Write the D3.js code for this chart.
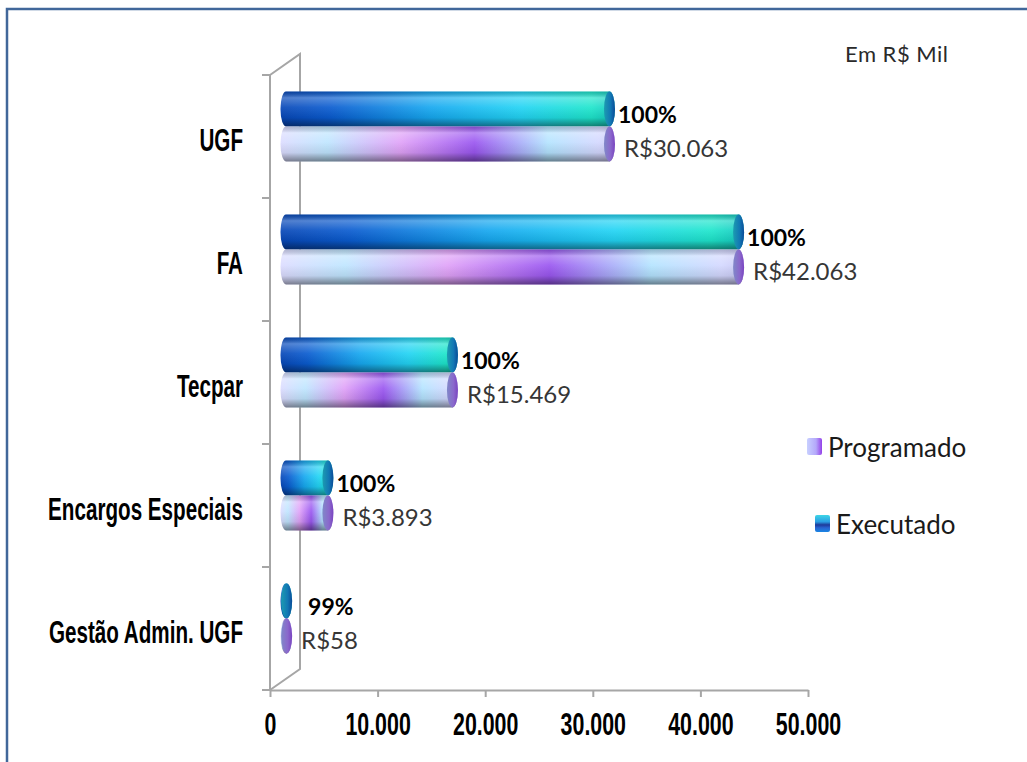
<!DOCTYPE html>
<html>
<head>
<meta charset="utf-8">
<script src="https://cdn.jsdelivr.net/npm/d3@7"></script>
<style>
  body { margin: 0; background: #fff; }
  text { font-family: Lato, "Open Sans", sans-serif; }
  .axis-cond text { font-family: "Liberation Sans", Arial, sans-serif; font-weight: bold; fill: #000; }
</style>
</head>
<body>
<svg id="chart" width="1027" height="762"></svg>
<script>
// data (R$ mil)
var categories = ["UGF", "FA", "Tecpar", "Encargos Especiais", "Gestão Admin. UGF"];
var programado = [30063, 42063, 15469, 3893, 58];
var executado  = [30063, 42063, 15469, 3893, 57];
var pctLabels  = ["100%", "100%", "100%", "100%", "99%"];
var xTicks     = [0, 10000, 20000, 30000, 40000, 50000];
var seriesNames = ["Programado", "Executado"];
var unitLabel = "Em R$ Mil";

var svg = d3.select("#chart");

var xLeft = 270, xRight = 808, yTop = 75, yBottom = 690
  , depth = [30, -21]      // back wall offset
  , dx = 16, dy = -10      // bars sit half way into the depth
  , barH = 35, capRx = 5.5
  , catScale = 0.645, tickScale = 0.69;

var x = d3.scaleLinear().domain([0, 50000]).range([xLeft, xRight]);
var y = d3.scaleBand().domain(categories).range([yTop, yBottom]);

var br = d3.formatLocale({decimal: ",", thousands: ".", grouping: [3], currency: ["R$", ""]});
var fmtTick = br.format(",.0f"), fmtMoney = br.format("$,.0f");

// gradients
var defs = svg.append("defs");
function linGrad(id, stops, vertical) {
  var g = defs.append("linearGradient").attr("id", id)
      .attr("x1", 0).attr("y1", 0).attr("x2", vertical ? 0 : 1).attr("y2", vertical ? 1 : 0);
  stops.forEach(function(s) {
    g.append("stop").attr("offset", s[0]).attr("stop-color", s[1]).attr("stop-opacity", s[2] == null ? 1 : s[2]);
  });
}
linGrad("gExec", [[0, "#0848b8"], [0.15, "#0a5cd0"], [0.45, "#16a8f0"], [0.72, "#22d4f4"], [0.93, "#1ee6cc"], [1, "#16c8c0"]]);
linGrad("gProg", [[0, "#dcdcff"], [0.14, "#bfe6ff"], [0.36, "#e0a2f8"], [0.58, "#9a56f0"], [0.8, "#b4e4ff"], [0.95, "#d4d8ff"], [1, "#c8c8f4"]]);
linGrad("gShade", [[0, "#000", 0.18], [0.18, "#fff", 0.3], [0.45, "#fff", 0.08], [0.75, "#000", 0.08], [1, "#000", 0.45]], true);
linGrad("gCapExec", [[0, "#1c9cb0"], [0.6, "#1277b4"], [1, "#0b4a98"]]);
linGrad("gCapProg", [[0, "#8088c8"], [0.6, "#8a68cc"], [1, "#7a44c0"]]);
linGrad("gLegProg", [[0, "#c8d0ff"], [0.6, "#b4a8fa"], [1, "#9440e8"]]);
linGrad("gLegExec", [[0, "#3ed6e6"], [0.4, "#2a9ee4"], [0.58, "#1e3a9a"], [0.75, "#2862d0"], [1, "#1a86e4"]], true);

// frame
svg.append("rect")
    .attr("x", 7).attr("y", 9).attr("width", 1100).attr("height", 900)
    .attr("fill", "none").attr("stroke", "#41679a").attr("stroke-width", 2.5);

// 3d side wall
svg.append("path")
    .attr("d", "M" + xLeft + "," + yBottom + "L" + (xLeft + depth[0]) + "," + (yBottom + depth[1]) +
               "L" + (xLeft + depth[0]) + "," + (yTop + depth[1]) + "L" + xLeft + "," + yTop)
    .attr("fill", "none").attr("stroke", "#a6a6a6").attr("stroke-width", 2);

// category boundary ticks on the front edge
var bounds = categories.map(function(c) { return y(c); }).concat([yBottom]);
svg.append("g").selectAll("line").data(bounds).enter().append("line")
    .attr("x1", xLeft - 8).attr("x2", xLeft).attr("y1", d => d).attr("y2", d => d)
    .attr("stroke", "#a6a6a6").attr("stroke-width", 2);
svg.append("line")
    .attr("x1", xLeft).attr("x2", xLeft).attr("y1", yTop).attr("y2", yBottom)
    .attr("stroke", "#a6a6a6").attr("stroke-width", 2);

// x axis
var xAxis = svg.append("g")
    .attr("class", "axis-cond")
    .attr("transform", "translate(0," + yBottom + ")")
    .call(d3.axisBottom(x).tickValues(xTicks).tickFormat(fmtTick).tickSize(7).tickSizeOuter(0).tickPadding(16));
xAxis.select(".domain").attr("stroke", "#a6a6a6").attr("stroke-width", 2);
xAxis.selectAll(".tick line").attr("stroke", "#a6a6a6").attr("stroke-width", 2);
xAxis.selectAll(".tick text").attr("font-size", 31).attr("transform", "scale(" + tickScale + ",1)");

// y axis labels
var yAxis = svg.append("g")
    .attr("class", "axis-cond")
    .attr("transform", "translate(" + xLeft + ",0)")
    .call(d3.axisLeft(y).tickSize(0).tickPadding(27));
yAxis.select(".domain").remove();
yAxis.selectAll(".tick text")
    .attr("font-size", 32)
    .attr("x", -27 / catScale)
    .attr("dy", 14)
    .attr("transform", "scale(" + catScale + ",1)");

// bars
var rows = categories.map(function(c, i) {
  return {cat: c, prog: programado[i], exec: executado[i], pct: pctLabels[i]};
});

function cylPath(cx0, cx1, t) {
  var ry = barH / 2;
  return "M" + cx0 + "," + t + "L" + cx1 + "," + t +
         "A" + capRx + "," + ry + " 0 0 1 " + cx1 + "," + (t + barH) +
         "L" + cx0 + "," + (t + barH) +
         "A" + capRx + "," + ry + " 0 0 1 " + cx0 + "," + t + "Z";
}

var series = [
  {key: "exec", fill: "url(#gExec)", cap: "url(#gCapExec)", off: -barH},
  {key: "prog", fill: "url(#gProg)", cap: "url(#gCapProg)", off: 0}
];

var barG = svg.append("g").attr("class", "bars");
series.forEach(function(s) {
  var g = barG.selectAll(".bar-" + s.key).data(rows).enter().append("g").attr("class", "bar-" + s.key);
  var tp = d => y(d.cat) + y.bandwidth() / 2 + dy + s.off;
  g.append("path")
      .attr("d", d => cylPath(x(0) + dx, x(d[s.key]) + dx, tp(d)))
      .attr("fill", s.fill);
  g.append("path")
      .attr("d", d => cylPath(x(0) + dx, x(d[s.key]) + dx, tp(d)))
      .attr("fill", "url(#gShade)");
  g.append("ellipse")
      .attr("cx", d => x(d[s.key]) + dx)
      .attr("cy", d => tp(d) + barH / 2)
      .attr("rx", capRx).attr("ry", barH / 2)
      .attr("fill", s.cap);
});

// labels
var lab = svg.append("g");
lab.selectAll(".pct").data(rows).enter().append("text")
    .attr("class", "pct")
    .attr("x", d => x(d.exec) + dx + capRx + (d.pct.length < 4 ? 16 : 3))
    .attr("y", d => y(d.cat) + y.bandwidth() / 2 + dy - 3.5)
    .attr("font-size", 23).attr("font-weight", "bold").attr("fill", "#000")
    .text(d => d.pct);
lab.selectAll(".val").data(rows).enter().append("text")
    .attr("class", "val")
    .attr("x", d => x(d.prog) + dx + capRx + 9)
    .attr("y", d => y(d.cat) + y.bandwidth() / 2 + dy + barH - 5)
    .attr("font-size", 24).attr("fill", "#363636")
    .text(d => fmtMoney(d.prog));

// legend
var legPos = [[807, 438], [815, 515]];
var leg = svg.append("g").selectAll("g").data(seriesNames).enter().append("g")
    .attr("transform", (d, i) => "translate(" + legPos[i][0] + "," + legPos[i][1] + ")");
leg.append("rect")
    .attr("width", 15).attr("height", 17).attr("rx", 2)
    .attr("fill", (d, i) => i == 0 ? "url(#gLegProg)" : "url(#gLegExec)");
leg.append("text")
    .attr("x", 21).attr("y", 18.5)
    .attr("font-size", 26).attr("fill", "#1a1a1a")
    .text(d => d);

svg.append("text")
    .attr("x", 845).attr("y", 62)
    .attr("font-size", 22).attr("letter-spacing", 0.5).attr("fill", "#2a2a2a")
    .text(unitLabel);
</script>
</body>
</html>
